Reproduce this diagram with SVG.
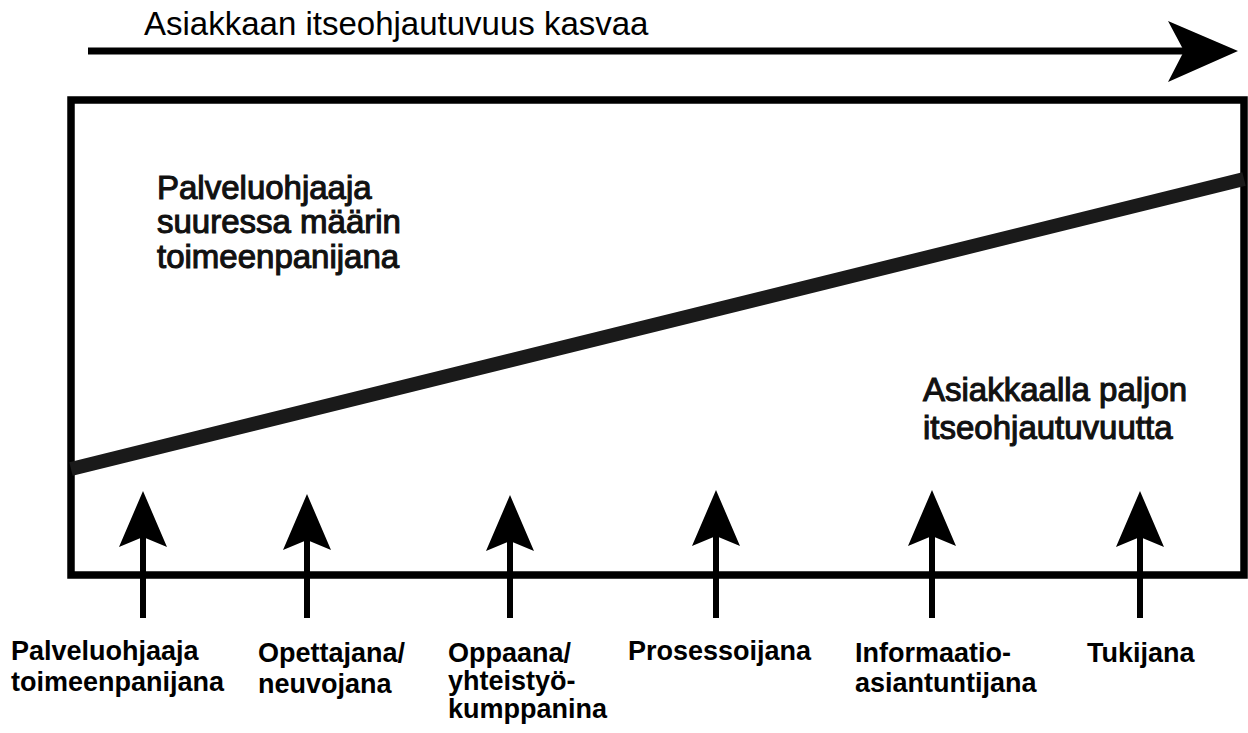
<svg xmlns="http://www.w3.org/2000/svg" width="1248" height="733" viewBox="0 0 1248 733">
<defs>
<style>
.top{font-family:"Liberation Sans",Arial,sans-serif;font-size:33px;fill:#000;}
.mid{font-family:"Liberation Sans",Arial,sans-serif;font-size:33px;fill:#111;stroke:#111;stroke-width:1.1px;}
.lab{font-family:"Liberation Sans",Arial,sans-serif;font-size:27px;font-weight:bold;fill:#000;}
.shaft{stroke:#000;stroke-width:6;fill:none;}
.head{fill:#000;stroke:none;}
</style>
</defs>
<rect x="0" y="0" width="1248" height="733" fill="#fff"/>
<g id="direction-arrow">
<line x1="88" y1="51" x2="1190" y2="51" stroke="#000" stroke-width="7"/>
<polygon points="1238,51 1168,21 1184,51 1168,82" fill="#000"/>
<text class="top" x="144" y="35">Asiakkaan itseohjautuvuus kasvaa</text>
</g>
<g id="frame">
<rect x="71" y="100" width="1173" height="475" fill="none" stroke="#000" stroke-width="7.5"/>
<line x1="71" y1="469" x2="1244" y2="179" stroke="#1a1a1a" stroke-width="14"/>
</g>
<g id="area-top">
<text class="mid" x="157" y="199">Palveluohjaaja</text>
<text class="mid" x="157" y="233">suuressa määrin</text>
<text class="mid" x="157" y="268">toimeenpanijana</text>
</g>
<g id="area-bottom">
<text class="mid" x="923" y="401">Asiakkaalla paljon</text>
<text class="mid" x="923" y="439">itseohjautuvuutta</text>
</g>
<g id="connectors">
<line class="shaft" x1="143" y1="530" x2="143" y2="618"/>
<polygon class="head" points="143,491 167,547 143,537 119,547"/>
<line class="shaft" x1="307" y1="530" x2="307" y2="618"/>
<polygon class="head" points="307,494 331,550 307,540 283,550"/>
<line class="shaft" x1="510" y1="530" x2="510" y2="618"/>
<polygon class="head" points="510,495 534,551 510,541 486,551"/>
<line class="shaft" x1="716" y1="530" x2="716" y2="618"/>
<polygon class="head" points="716,490 740,546 716,536 692,546"/>
<line class="shaft" x1="932" y1="530" x2="932" y2="618"/>
<polygon class="head" points="932,490 956,546 932,536 908,546"/>
<line class="shaft" x1="1140" y1="530" x2="1140" y2="618"/>
<polygon class="head" points="1140,491 1164,547 1140,537 1116,547"/>
</g>
<g id="role-1">
<text class="lab" x="11" y="660">Palveluohjaaja</text>
<text class="lab" x="11" y="691">toimeenpanijana</text>
</g>
<g id="role-2">
<text class="lab" x="258" y="662">Opettajana/</text>
<text class="lab" x="258" y="693">neuvojana</text>
</g>
<g id="role-3">
<text class="lab" x="448" y="662">Oppaana/</text>
<text class="lab" x="448" y="690">yhteistyö-</text>
<text class="lab" x="448" y="718">kumppanina</text>
</g>
<g id="role-4">
<text class="lab" x="628" y="660">Prosessoijana</text>
</g>
<g id="role-5">
<text class="lab" x="855" y="662">Informaatio-</text>
<text class="lab" x="855" y="692">asiantuntijana</text>
</g>
<g id="role-6">
<text class="lab" x="1087" y="662">Tukijana</text>
</g>
</svg>
